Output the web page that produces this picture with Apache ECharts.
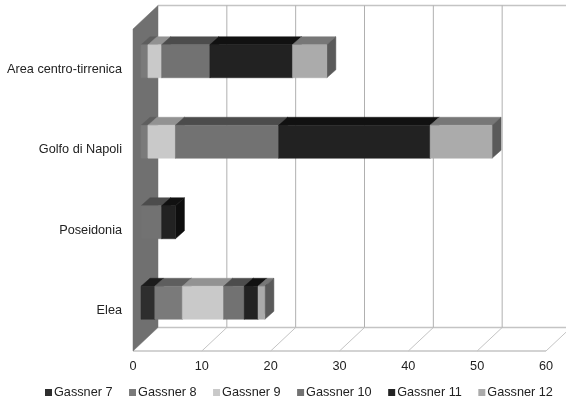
<!DOCTYPE html>
<html>
<head>
<meta charset="utf-8">
<style>html,body{margin:0;padding:0;background:#fff}#c{width:566px;height:404px}</style>
<script src="https://cdn.jsdelivr.net/npm/echarts@6/dist/echarts.min.js"></script>
</head>
<body>
<div id="c"></div>
<script>
const sites = ['Elea', 'Poseidonia', 'Golfo di Napoli', 'Area centro-tirrenica'];
const xTicks = [0, 10, 20, 30, 40, 50, 60];
const gassner7 = [2, 0, 0, 0];
const gassner8 = [4, 0, 1, 1];
const gassner9 = [6, 0, 4, 2];
const gassner10 = [3, 3, 15, 7];
const gassner11 = [2, 2, 22, 12];
const gassner12 = [1, 0, 9, 5];

const layers = [
  { name: 'Gassner 7', values: gassner7, front: '#2e2e2e', top: '#1c1c1c', side: '#161616' },
  { name: 'Gassner 8', values: gassner8, front: '#7a7a7a', top: '#5e5e5e', side: '#4e4e4e' },
  { name: 'Gassner 9', values: gassner9, front: '#c9c9c9', top: '#929292', side: '#7e7e7e' },
  { name: 'Gassner 10', values: gassner10, front: '#727272', top: '#4c4c4c', side: '#444444' },
  { name: 'Gassner 11', values: gassner11, front: '#222222', top: '#111111', side: '#0e0e0e' },
  { name: 'Gassner 12', values: gassner12, front: '#ababab', top: '#777777', side: '#5a5a5a' }
];

// Projection of the pseudo-3D box, in pixels
const WALL_DX = 25, WALL_DY = -23.5;
const BAR_OFF_X = 8, BAR_OFF_Y = -8;
const BAR_DX = 9, BAR_DY = -8;
const BAR_HALF = 16.5;
const GRID_LINE = '#b0b0b0';

function poly(points, fill, stroke) {
  return {
    type: 'polygon',
    shape: { points },
    style: { fill, stroke: stroke || fill, lineWidth: stroke ? 1 : 0.5 }
  };
}
function line(x1, y1, x2, y2, stroke, width) {
  return {
    type: 'line',
    shape: { x1, y1, x2, y2 },
    style: { stroke, lineWidth: width || 1, fill: null }
  };
}

// Walls, floor and gridlines of the box
function renderFrame(params, api) {
  const v = api.value(0);
  const rect = params.coordSys;
  const [x] = api.coord([v, 0]);
  const yTop = rect.y, yBot = rect.y + rect.height;
  const children = [];
  if (v === 0) {
    children.push(
      line(x + WALL_DX, yTop + WALL_DY, 566, yTop + WALL_DY, '#c4c4c4', 1.5),
      line(x + WALL_DX, yBot + WALL_DY, 566, yBot + WALL_DY, '#c4c4c4', 1.5),
      line(x, yBot, rect.x + rect.width, yBot, '#c4c4c4', 1.5),
      poly([[x, yTop], [x + WALL_DX, yTop + WALL_DY], [x + WALL_DX, yBot + WALL_DY], [x, yBot]], '#707070')
    );
  } else {
    children.push(
      line(x + WALL_DX, yTop + WALL_DY, x + WALL_DX, yBot + WALL_DY, GRID_LINE),
      line(x, yBot, x + WALL_DX, yBot + WALL_DY, '#c4c4c4')
    );
  }
  return { type: 'group', children };
}

// One stacked block: front, top and end faces
function renderBlock(layerIndex) {
  return function (params, api) {
    const cat = api.value(0);
    const val = api.value(1);
    if (!val) return null;
    let base = 0;
    for (let k = 0; k < layerIndex; k++) base += layers[k].values[cat];
    const p0 = api.coord([base, cat]);
    const p1 = api.coord([base + val, cat]);
    const xa = p0[0] + BAR_OFF_X, xb = p1[0] + BAR_OFF_X;
    const yc = p0[1] + BAR_OFF_Y;
    const t = yc - BAR_HALF, b = yc + BAR_HALF;
    const layer = layers[layerIndex];
    return {
      type: 'group',
      children: [
        poly([[xa, t], [xa + BAR_DX, t + BAR_DY], [xb + BAR_DX, t + BAR_DY], [xb, t]], layer.top),
        poly([[xb, t], [xb + BAR_DX, t + BAR_DY], [xb + BAR_DX, b + BAR_DY], [xb, b]], layer.side),
        poly([[xa, t], [xb, t], [xb, b], [xa, b]], layer.front)
      ]
    };
  };
}

const textColor = '#222222';
const fontFamily = '"Liberation Sans", Arial, sans-serif';
const fontSize = 12.7;

const series = [{
  type: 'custom',
  name: 'frame',
  coordinateSystem: 'cartesian2d',
  clip: false,
  silent: true,
  z: 1,
  encode: { x: 0 },
  data: xTicks.map(v => [v]),
  renderItem: renderFrame
}];
layers.forEach((layer, i) => {
  series.push({
    type: 'custom',
    name: layer.name,
    coordinateSystem: 'cartesian2d',
    clip: false,
    z: 2 + i,
    itemStyle: { color: layer.front },
    encode: { x: 1, y: 0 },
    data: layer.values.map((v, c) => [c, v]),
    renderItem: renderBlock(i)
  });
});

const chart = echarts.init(document.getElementById('c'), null, { renderer: 'canvas' });
chart.setOption({
  animation: false,
  backgroundColor: '#ffffff',
  grid: { left: 133, top: 29, width: 413, height: 322, containLabel: false },
  xAxis: {
    type: 'value',
    min: 0,
    max: 60,
    interval: 10,
    axisLine: { show: false },
    axisTick: { show: false },
    splitLine: { show: false },
    axisLabel: { color: textColor, fontSize, fontFamily, margin: 9 }
  },
  yAxis: {
    type: 'category',
    data: sites,
    axisLine: { show: false },
    axisTick: { show: false },
    splitLine: { show: false },
    axisLabel: { color: textColor, fontSize, fontFamily, margin: 11 }
  },
  legend: {
    data: layers.map(l => l.name),
    left: 40,
    top: 381,
    icon: 'rect',
    itemWidth: 7,
    itemHeight: 7,
    itemGap: 16.5,
    textStyle: { color: textColor, fontSize, fontFamily, padding: [0, 0, 0, -3] },
    selectedMode: false
  },
  series
});
</script>
</body>
</html>
